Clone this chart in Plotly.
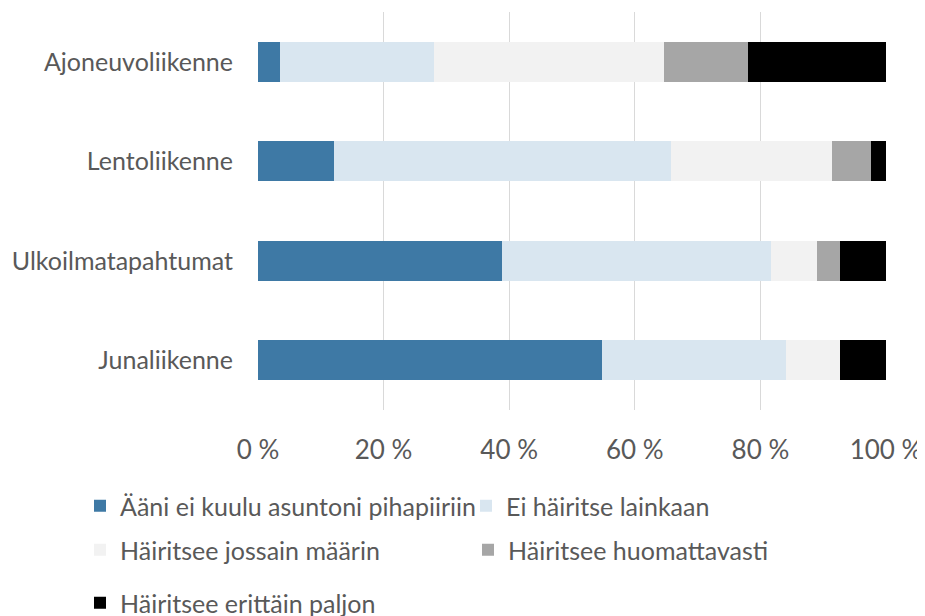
import plotly.graph_objects as go

# categories (top to bottom as in the picture)
kategoriat = ["Ajoneuvoliikenne", "Lentoliikenne", "Ulkoilmatapahtumat", "Junaliikenne"]

# series values, percent
aani_ei_kuulu = [3.5, 12.1, 38.9, 54.8]
ei_hairitse = [24.5, 53.7, 42.8, 29.2]
jossain_maarin = [36.6, 25.6, 7.3, 8.6]
huomattavasti = [13.5, 6.2, 3.6, 0.0]
erittain_paljon = [21.9, 2.4, 7.4, 7.4]

sarjat = [
    ("Ääni ei kuulu asuntoni pihapiiriin", aani_ei_kuulu, "#3E79A5"),
    ("Ei häiritse lainkaan", ei_hairitse, "#D9E6F0"),
    ("Häiritsee jossain määrin", jossain_maarin, "#F2F2F2"),
    ("Häiritsee huomattavasti", huomattavasti, "#A6A6A6"),
    ("Häiritsee erittäin paljon", erittain_paljon, "#000000"),
]

tick_arvot = [0, 20, 40, 60, 80, 100]
tick_tekstit = ["0 %", "20 %", "40 %", "60 %", "80 %", "100 %"]

fontti = "Lato, 'Liberation Sans', sans-serif"
harmaa = "#595959"

# figure size minus the 8 px body margin of the page, so nothing spills out
LEVEYS, KORKEUS = 917, 608

# one legend per entry so the rows sit like the Excel legend (x, y in container px)
legendit = ["legend", "legend2", "legend3", "legend4", "legend5"]
legend_paikat = [(72, 498), (458, 498), (72, 542), (460, 542), (72, 595)]

fig = go.Figure()
for (nimi, arvot, vari), leg in zip(sarjat, legendit):
    fig.add_trace(go.Bar(
        y=kategoriat,
        x=arvot,
        name=nimi,
        orientation="h",
        marker=dict(color=vari, line=dict(width=0)),
        legend=leg,
    ))

legend_asetukset = {}
for leg, (lx, ly) in zip(legendit, legend_paikat):
    legend_asetukset[leg] = dict(
        xref="container",
        yref="container",
        x=lx / LEVEYS,
        y=1 - ly / KORKEUS,
        xanchor="left",
        yanchor="middle",
        bgcolor="rgba(0,0,0,0)",
        font=dict(size=25, color=harmaa),
    )

fig.update_layout(
    barmode="stack",
    bargap=0.6,
    width=LEVEYS,
    height=KORKEUS,
    margin=dict(l=250, r=39, t=4, b=206, autoexpand=False),
    plot_bgcolor="white",
    paper_bgcolor="white",
    font=dict(family=fontti, color=harmaa),
    showlegend=True,
    xaxis=dict(
        range=[0, 100],
        tickvals=tick_arvot,
        ticktext=tick_tekstit,
        showgrid=True,
        gridcolor="#D9D9D9",
        gridwidth=1,
        zeroline=False,
        tickfont=dict(size=26, color=harmaa),
        ticks="",
        ticklabelstandoff=22,
        automargin=False,
    ),
    yaxis=dict(
        categoryorder="array",
        categoryarray=kategoriat[::-1],
        tickfont=dict(size=25, color=harmaa),
        ticks="",
        ticklabelstandoff=24,
        showgrid=False,
        automargin=False,
    ),
    **legend_asetukset,
)

fig.write_html("out.html")
